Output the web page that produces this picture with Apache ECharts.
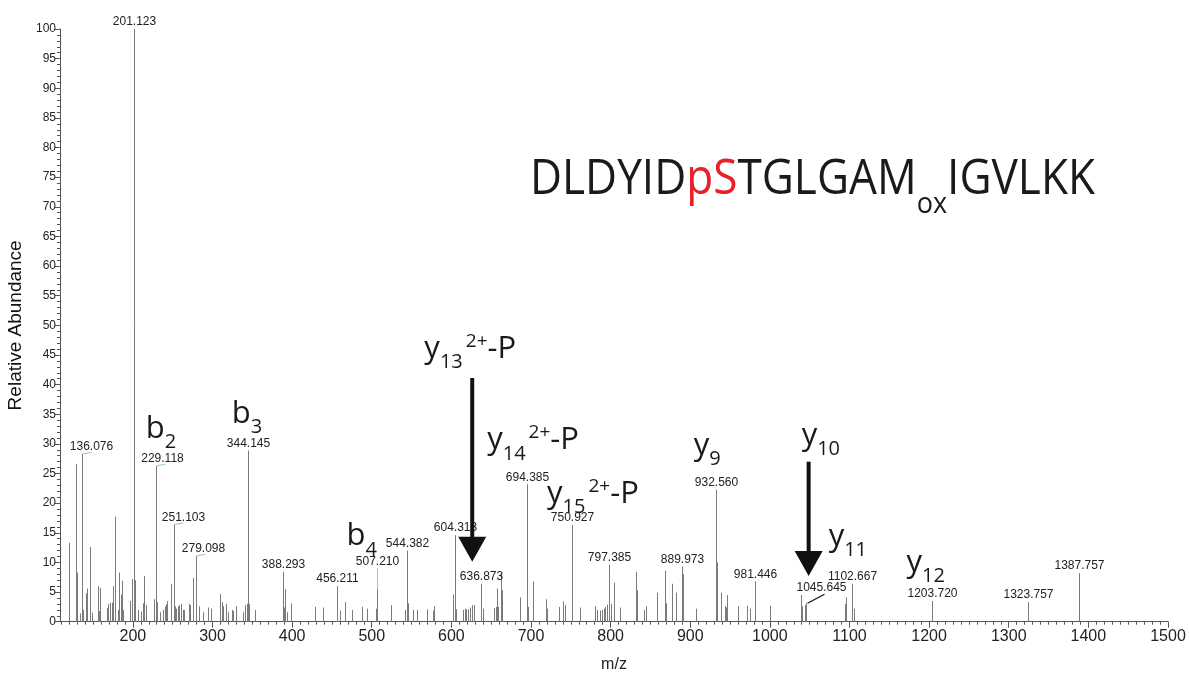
<!DOCTYPE html>
<html>
<head>
<meta charset="utf-8">
<script src="https://cdn.jsdelivr.net/npm/echarts@6/dist/echarts.min.js"></script>
<style>
  html, body { margin: 0; padding: 0; background: #ffffff; }
  #chart { width: 1189px; height: 675px; }
</style>
</head>
<body>
<div id="chart"></div>
<script>
// ---- MS/MS spectrum data -------------------------------------------------
// unlabelled fragment peaks (m/z, relative abundance %)
const peakMz = [
  120.0, 128.4, 130.1, 133.4, 137.2, 140.6, 142.7, 146.5, 148.1, 156.6,
  157.3, 158.6, 167.1, 169.2, 171.2, 173.4, 174.6, 178.0, 180.9, 182.6,
  185.1, 186.9, 187.6, 196.5, 198.6, 202.4, 207.0, 210.3, 212.9, 214.6,
  216.3, 226.7, 230.1, 233.9, 238.1, 239.8, 241.5, 243.1, 248.2, 252.4,
  254.1, 256.2, 258.2, 260.4, 262.5, 264.5, 270.1, 272.1, 275.1, 283.5,
  288.1, 294.1, 298.2, 310.0, 312.1, 313.7, 317.1, 319.7, 324.7, 326.3,
  330.1, 338.2, 340.7, 343.2, 345.8, 353.3, 389.9, 391.5, 393.2, 399.1,
  428.5, 438.2, 459.6, 466.8, 474.8, 487.7, 493.7, 505.4, 523.6, 541.2,
  545.4, 551.7, 557.1, 569.3, 576.9, 578.2, 602.1, 605.6, 614.7, 616.9,
  618.9, 621.0, 624.0, 626.5, 628.6, 640.0, 653.8, 655.5, 657.6, 658.9,
  662.5, 663.6, 686.2, 695.8, 702.1, 703.0, 718.5, 719.8, 735.4, 740.0,
  742.1, 743.0, 761.9, 780.8, 783.3, 786.2, 789.2, 791.3, 793.4, 795.4,
  800.5, 803.9, 812.3, 832.5, 833.2, 841.7, 843.9, 857.7, 858.5, 868.2,
  869.1, 877.1, 881.8, 882.7, 890.9, 906.9, 933.2, 934.0, 938.9, 943.1,
  944.4, 946.4, 960.3, 971.6, 974.6, 1000.3, 1039.3, 1040.1, 1044.5, 1094.3,
  1095.2, 1103.7, 1105.3
];
const peakAbundance = [
  13.3, 26.6, 8.3, 1.4, 2.0, 4.8, 5.6, 12.6, 1.5, 6.0,
  1.8, 5.7, 2.3, 3.0, 3.2, 3.2, 6.0, 17.7, 2.0, 8.3,
  4.6, 6.9, 2.0, 3.5, 7.2, 7.0, 2.0, 1.7, 3.1, 7.7,
  2.8, 3.8, 3.3, 1.6, 2.0, 2.6, 2.9, 3.5, 6.4, 2.6,
  2.2, 2.6, 2.8, 3.0, 2.0, 2.0, 3.0, 2.8, 7.4, 2.6,
  1.6, 2.4, 2.2, 4.7, 3.3, 2.6, 3.0, 1.6, 2.0, 1.8,
  2.6, 1.6, 2.8, 3.0, 3.0, 2.0, 2.4, 5.5, 1.6, 3.1,
  2.5, 2.4, 1.9, 3.3, 2.0, 2.5, 2.2, 2.2, 2.8, 2.0,
  3.1, 2.0, 2.0, 2.1, 1.9, 2.6, 4.6, 2.1, 2.0, 2.2,
  2.1, 2.1, 2.4, 2.8, 2.8, 2.2, 2.3, 2.5, 5.6, 2.5,
  8.3, 5.3, 4.1, 2.5, 6.8, 2.9, 3.8, 2.2, 2.5, 3.4,
  2.8, 2.2, 2.4, 2.6, 2.0, 1.9, 2.0, 2.2, 2.5, 2.9,
  3.0, 6.6, 2.4, 8.4, 5.3, 2.0, 2.6, 4.9, 3.8, 8.6,
  3.1, 6.4, 2.7, 4.9, 8.0, 2.2, 10.0, 2.4, 4.9, 2.6,
  2.4, 4.5, 2.6, 2.7, 2.2, 2.7, 4.5, 2.6, 2.8, 3.0,
  4.1, 2.7, 2.2
];

// labelled peaks: the label text is the peak's m/z
const labelMz = [
  136.076, 201.123, 229.118, 251.103, 279.098, 344.145, 388.293, 456.211,
  507.210, 544.382, 604.313, 636.873, 694.385, 750.927, 797.385, 889.973,
  932.560, 981.446, 1045.645, 1102.667, 1203.720, 1323.757, 1387.757
];
const labelAbundance = [
  28.3, 100, 26.3, 16.4, 11.1, 28.9, 8.4, 6.0,
  5.5, 12.0, 14.6, 6.4, 23.2, 16.3, 9.6, 9.3,
  22.3, 6.8, 3.1, 6.4, 3.5, 3.3, 8.2
];

// fragment ion assignments: name, subscript, superscript suffix, anchor (m/z, %)
const ionName  = ['b', 'b', 'b', 'y', 'y', 'y', 'y', 'y', 'y', 'y'];
const ionSub   = ['2', '3', '4', '13', '14', '15', '9', '10', '11', '12'];
const ionSup   = ['', '', '', '2+', '2+', '2+', '', '', '', ''];
const ionTail  = ['', '', '', '-P', '-P', '-P', '', '', '', ''];
const ionMz    = [216.3, 324.1, 468.3, 566.1, 645.0, 720.2, 904.5, 1039.9, 1073.8, 1171.5];
const ionAb    = [31.4, 34.0, 13.3, 45.0, 29.5, 20.5, 28.6, 30.3, 13.2, 8.8];

// arrows marking the neutral-loss and y10 ions (m/z, start %, tip %)
const arrowMz   = [626.2, 1048.7];
const arrowFrom = [41.1, 27.0];
const arrowTo   = [10.1, 7.7];

// axis ticks
const xTickValues = [200, 300, 400, 500, 600, 700, 800, 900, 1000, 1100, 1200, 1300, 1400, 1500];
const xMin = 108.5, xMax = 1500;

// ---- helpers -------------------------------------------------------------
const LABEL_FONT = '"Liberation Sans", Arial, sans-serif';
const ANNOT_FONT = '"Open Sans", "Noto Sans", sans-serif';
const measureCtx = document.createElement('canvas').getContext('2d');
function textWidth(str, size, family) {
  measureCtx.font = size + 'px ' + family;
  return measureCtx.measureText(str).width;
}
// builds a run of text pieces sharing one baseline (sub/superscripts shifted)
function textRun(pieces, family) {
  let cx = 0;
  const children = [];
  pieces.forEach(function (p) {
    if (!p.text) return;
    children.push({
      type: 'text',
      x: cx,
      y: p.shift - 0.2 * p.size,
      style: {
        text: p.text, fontSize: p.size, fontFamily: family,
        fill: p.color || '#1a1a1a',
        align: 'left', verticalAlign: 'middle',
        textAlign: 'left', textVerticalAlign: 'middle'
      }
    });
    cx += textWidth(p.text, p.size, family) + (p.gap || 0);
  });
  return { children: children, width: cx };
}

// label placement tweaks for crowded peaks
const labelTweak = {
  '136.076': { dx: 9, lift: 1, leader: 'tick' },
  '229.118': { dx: 6, lift: 1, leader: 'tick' },
  '251.103': { dx: 9, lift: 1, leader: 'tick' },
  '279.098': { dx: 7, lift: 1, leader: 'tick' },
  '507.210': { dx: 0, lift: 21, leader: 'stem' },
  '1045.645': { dx: 15, lift: 10, leader: 'slant' }
};

const PEAK_COLOR = '#7b7b7b';

function peakLine(api, mz, ab) {
  const base = api.coord([mz, 0]);
  const top = api.coord([mz, ab]);
  const x = Math.round(base[0]) + 0.5;
  return { x: x, y0: base[1], y1: top[1] };
}

const peakData = peakMz.map(function (m, i) { return [m, peakAbundance[i]]; });
const labelData = labelMz.map(function (m, i) { return [m, labelAbundance[i]]; });
const ionData = ionName.map(function (n, i) { return [ionMz[i], ionAb[i], i]; });
const arrowData = arrowMz.map(function (m, i) { return [m, arrowFrom[i], arrowTo[i]]; });

const minorTickValues = [];
for (let v = 110; v <= 1500; v += 10) {
  if (v % 100 !== 0) minorTickValues.push(v);
}

const chart = echarts.init(document.getElementById('chart'), null, { renderer: 'canvas' });

const option = {
  backgroundColor: '#ffffff',
  animation: false,
  grid: { left: 60, right: 21, top: 29, bottom: 53.3, containLabel: false, outerBoundsMode: 'none' },
  xAxis: [
    {
      type: 'value', min: xMin, max: xMax, position: 'bottom',
      axisLine: { show: true, onZero: false, lineStyle: { color: '#555', width: 1 } },
      axisTick: { show: true, customValues: xTickValues, length: 6, lineStyle: { color: '#555' } },
      axisLabel: {
        show: true, customValues: xTickValues, fontSize: 16, color: '#222',
        fontFamily: LABEL_FONT, margin: 7,
        formatter: function (v) { return String(v); }
      },
      splitLine: { show: false },
      name: 'm/z', nameLocation: 'middle', nameGap: 35,
      nameTextStyle: { fontSize: 16, color: '#222', fontFamily: LABEL_FONT }
    },
    {
      type: 'value', min: xMin, max: xMax, position: 'bottom',
      axisLine: { show: false },
      axisTick: { show: true, customValues: minorTickValues, length: 3, lineStyle: { color: '#555' } },
      axisLabel: { show: false },
      splitLine: { show: false }
    }
  ],
  yAxis: {
    type: 'value', min: 0, max: 100, interval: 5,
    axisLine: { show: true, lineStyle: { color: '#555', width: 1 } },
    axisTick: { show: true, length: 5, lineStyle: { color: '#555' } },
    minorTick: { show: true, splitNumber: 5, length: 3, lineStyle: { color: '#555' } },
    splitLine: { show: false },
    minorSplitLine: { show: false },
    axisLabel: { fontSize: 12, color: '#222', fontFamily: LABEL_FONT, margin: 4 },
    name: 'Relative Abundance', nameLocation: 'middle', nameGap: 31,
    nameTextStyle: { fontSize: 19, color: '#111', fontFamily: LABEL_FONT }
  },
  series: [
    {
      // unlabelled peaks
      type: 'custom', name: 'peaks', xAxisIndex: 0, silent: true,
      data: peakData,
      renderItem: function (params, api) {
        const l = peakLine(api, api.value(0), api.value(1));
        return {
          type: 'line',
          shape: { x1: l.x, y1: l.y0, x2: l.x, y2: l.y1 },
          style: { stroke: PEAK_COLOR, lineWidth: 1 }
        };
      }
    },
    {
      // labelled peaks with their m/z values
      type: 'custom', name: 'labelled', xAxisIndex: 0, silent: true,
      data: labelData,
      renderItem: function (params, api) {
        const mz = api.value(0), ab = api.value(1);
        const text = labelMz[params.dataIndex].toFixed(3);
        const l = peakLine(api, mz, ab);
        const tw = labelTweak[text] || { dx: 0, lift: 1, leader: null };
        const children = [{
          type: 'line',
          shape: { x1: l.x, y1: l.y0, x2: l.x, y2: l.y1 },
          style: { stroke: PEAK_COLOR, lineWidth: 1 }
        }];
        const lx = l.x + tw.dx, ly = l.y1 - tw.lift;
        if (tw.leader === 'tick') {
          children.push({ type: 'line', shape: { x1: l.x, y1: l.y1, x2: l.x + 9, y2: l.y1 - 1.5 },
            style: { stroke: '#8fd68f', lineWidth: 1 } });
        } else if (tw.leader === 'stem') {
          children.push({ type: 'line', shape: { x1: l.x, y1: l.y1, x2: l.x, y2: ly },
            style: { stroke: '#8fd68f', lineWidth: 1 } });
        } else if (tw.leader === 'slant') {
          children.push({ type: 'line', shape: { x1: l.x + 1, y1: l.y1, x2: l.x + 18, y2: l.y1 - 9 },
            style: { stroke: '#111', lineWidth: 1.2 } });
        }
        children.push({
          type: 'text', x: lx, y: ly,
          style: {
            text: text, fontSize: 12, fontFamily: LABEL_FONT, fill: '#222',
            align: 'center', verticalAlign: 'bottom',
            textAlign: 'center', textVerticalAlign: 'bottom'
          }
        });
        return { type: 'group', children: children };
      }
    },
    {
      // arrows
      type: 'custom', name: 'arrows', xAxisIndex: 0, silent: true,
      data: arrowData,
      renderItem: function (params, api) {
        const p0 = api.coord([api.value(0), api.value(1)]);
        const p1 = api.coord([api.value(0), api.value(2)]);
        const headH = 25, headW = 14, shaft = 4;
        return {
          type: 'group',
          children: [
            { type: 'rect', shape: { x: p0[0] - shaft / 2, y: p0[1], width: shaft, height: p1[1] - headH - p0[1] + 1 },
              style: { fill: '#111' } },
            { type: 'polygon', shape: { points: [[p1[0] - headW, p1[1] - headH], [p1[0] + headW, p1[1] - headH], [p1[0], p1[1]]] },
              style: { fill: '#111' } }
          ]
        };
      }
    },
    {
      // fragment ion names
      type: 'custom', name: 'ions', xAxisIndex: 0, silent: true,
      data: ionData,
      renderItem: function (params, api) {
        const i = params.dataIndex;
        const p = api.coord([api.value(0), api.value(1)]);
        const run = textRun([
          { text: ionName[i], size: 31, shift: 0 },
          { text: ionSub[i], size: 20, shift: 11, gap: 3 },
          { text: ionSup[i], size: 19, shift: -10 },
          { text: ionTail[i], size: 31, shift: 0 }
        ], ANNOT_FONT);
        return { type: 'group', x: p[0], y: p[1], children: run.children };
      }
    }
  ]
};

// peptide sequence with phosphoserine in red and oxidised methionine
const peptideRun = textRun([
  { text: 'DLDYID', size: 49, shift: 0 },
  { text: 'pS', size: 49, shift: 0, color: '#e8202a' },
  { text: 'TGLGAM', size: 49, shift: 0 },
  { text: 'ox', size: 30, shift: 20 },
  { text: 'IGVLKK', size: 49, shift: 0 }
], ANNOT_FONT);
option.graphic = [{
  type: 'group',
  x: 530, y: 190,
  scaleX: 565 / peptideRun.width,
  children: peptideRun.children
}];

chart.setOption(option);
</script>
</body>
</html>
